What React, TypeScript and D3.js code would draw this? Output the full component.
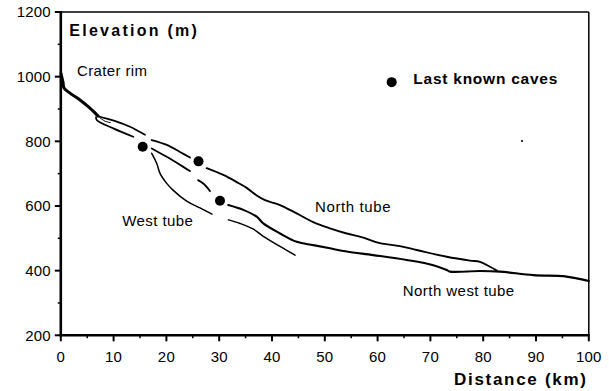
import React from "react";
import * as d3 from "d3";

// ---- data (distance km, elevation m) ----
const xTicks = [0, 10, 20, 30, 40, 50, 60, 70, 80, 90, 100];
const xMinorTicks = [5, 15, 25, 35, 45, 55, 65, 75, 85, 95];
const yTicks = [200, 400, 600, 800, 1000, 1200];
const yMinorTicks = [300, 500, 700, 900, 1100];

const trunk: [number, number][] = [
  [0.04, 1010], [0.17, 1000], [0.42, 983], [0.61, 965], [1.74, 949], [3.64, 928],
  [5.3, 906], [6.48, 888], [7.05, 878],
];
const splitUpper: [number, number][] = [
  [7.05, 878], [7.42, 876], [10.59, 861], [13.11, 845], [15.95, 820],
];
const splitLower: [number, number][] = [
  [6.67, 875], [6.8, 866], [9.94, 840], [13.73, 814],
];
const splitLens: [number, number][] = [
  [7.4, 873], [8.4, 862], [9.4, 858],
];
const northTubeA: [number, number][] = [
  [17.22, 804], [20.06, 789], [22.58, 767], [24.47, 750],
];
const northTubeB: [number, number][] = [
  [27.63, 717], [30.78, 696], [33.31, 674], [35.21, 656], [36.97, 634], [38.67, 618],
  [41.52, 603], [44.68, 577], [47.82, 550], [50.98, 531], [54.15, 515], [57.29, 502],
  [60.45, 485], [64.24, 476], [67.41, 464], [73.09, 443], [77.5, 431], [79.39, 427],
  [81.29, 412], [82.61, 400],
];
const northWestA: [number, number][] = [
  [17.22, 778], [20.06, 752], [23.2, 721], [24.47, 708],
];
const northWestDash: [number, number][] = [
  [26.0, 680], [27.1, 668], [28.26, 646],
];
const northWestB: [number, number][] = [
  [31.72, 603], [34.56, 588], [37.1, 567], [38.35, 546], [41.52, 515], [44.68, 489],
  [47.82, 479], [50.98, 469], [54.15, 459], [59.19, 448], [65.51, 433], [70.55, 417],
  [73.09, 402], [73.71, 397], [79.39, 399], [83.18, 397], [89.49, 386], [95.17, 383],
  [97.71, 376], [100, 368],
];
const westTubeA: [number, number][] = [
  [17.22, 763], [18.16, 732], [18.79, 701], [20.06, 670], [21.25, 649], [23.84, 615],
  [26.36, 594], [28.64, 575],
];
const westTubeB: [number, number][] = [
  [31.76, 557], [33.94, 546], [36.4, 529], [38.35, 506], [41.52, 475], [44.36, 448],
];
const caves: [number, number][] = [
  [15.51, 783], [26.08, 738], [30.15, 616],
];
const legendDot: [number, number] = [62.67, 983];
const strayMark: [number, number] = [87.35, 801];

const W = 609;
const H = 391;

export default function App() {
  const x = d3.scaleLinear().domain([0, 100]).range([60.8, 588.8]);
  const y = d3.scaleLinear().domain([200, 1200]).range([335.3, 12]);
  const line = d3
    .line<[number, number]>()
    .x((d) => x(d[0]))
    .y((d) => y(d[1]))
    .curve(d3.curveCatmullRom.alpha(0.5));

  const font = "'Liberation Sans', Arial, Helvetica, sans-serif";

  const segs: { d: [number, number][]; w: number }[] = [
    { d: trunk, w: 3 },
    { d: splitUpper, w: 1.7 },
    { d: splitLower, w: 1.7 },
    { d: splitLens, w: 1.0 },
    { d: northTubeA, w: 1.8 },
    { d: northTubeB, w: 1.9 },
    { d: northWestA, w: 1.8 },
    { d: northWestDash, w: 1.8 },
    { d: northWestB, w: 2.1 },
    { d: westTubeA, w: 1.5 },
    { d: westTubeB, w: 1.5 },
  ];

  return (
    <svg
      width={W}
      height={H}
      style={{ position: "absolute", left: 0, top: 0, background: "#fff" }}
      fontFamily={font}
    >
      <rect x={0} y={0} width={W} height={H} fill="#fff" />
      {/* frame */}
      <line x1={x(0)} x2={x(100)} y1={y(1200)} y2={y(1200)} stroke="#000" strokeWidth={1.5} />
      <line x1={x(100)} x2={x(100)} y1={y(1200)} y2={y(200)} stroke="#000" strokeWidth={1.5} />
      <line x1={x(0)} x2={x(0)} y1={y(1200) - 1} y2={y(200) + 1} stroke="#000" strokeWidth={2.6} />
      <line x1={x(0) - 1} x2={x(100) + 1} y1={y(200)} y2={y(200)} stroke="#000" strokeWidth={2.6} />

      {/* y ticks */}
      {yTicks.map((t) => (
        <g key={"y" + t}>
          <line x1={x(0) - 6} x2={x(0)} y1={y(t)} y2={y(t)} stroke="#000" strokeWidth={2} />
          <text
            x={x(0) - 10}
            y={y(t) + 5.2}
            textAnchor="end"
            fontSize={15}
            letterSpacing={0.2}
            fill="#000"
          >
            {t}
          </text>
        </g>
      ))}
      {yMinorTicks.map((t) => (
        <line key={"ym" + t} x1={x(0) - 3} x2={x(0)} y1={y(t)} y2={y(t)} stroke="#000" strokeWidth={1.5} />
      ))}

      {/* x ticks */}
      {xTicks.map((t) => (
        <g key={"x" + t}>
          <line x1={x(t)} x2={x(t)} y1={y(200)} y2={y(200) + 6} stroke="#000" strokeWidth={2} />
          <text
            x={x(t)}
            y={361.5}
            textAnchor="middle"
            fontSize={15}
            letterSpacing={0.2}
            fill="#000"
          >
            {t}
          </text>
        </g>
      ))}
      {xMinorTicks.map((t) => (
        <line key={"xm" + t} x1={x(t)} x2={x(t)} y1={y(200)} y2={y(200) + 3} stroke="#000" strokeWidth={1.5} />
      ))}

      {/* tubes */}
      {segs.map((s, i) => (
        <path
          key={"s" + i}
          d={line(s.d) || ""}
          fill="none"
          stroke="#000"
          strokeWidth={s.w}
          strokeLinecap="round"
          strokeLinejoin="round"
        />
      ))}

      {/* caves */}
      {caves.map((c, i) => (
        <circle key={"c" + i} cx={x(c[0])} cy={y(c[1])} r={5} fill="#000" />
      ))}
      <circle cx={x(legendDot[0])} cy={y(legendDot[1])} r={5} fill="#000" />
      <circle cx={x(strayMark[0])} cy={y(strayMark[1])} r={1.1} fill="#000" />

      {/* labels */}
      <text x={69.3} y={36} fontSize={16} fontWeight="bold" textLength={127.5} lengthAdjust="spacing">
        {"Elevation  (m)"}
      </text>
      <text x={77} y={76} fontSize={15} textLength={70} lengthAdjust="spacing">
        Crater rim
      </text>
      <text x={413.3} y={84} fontSize={15.5} fontWeight="bold" textLength={144} lengthAdjust="spacing">
        Last known caves
      </text>
      <text x={315} y={211.5} fontSize={15} textLength={75.5} lengthAdjust="spacing">
        North tube
      </text>
      <text x={122.3} y={226} fontSize={15} textLength={70.5} lengthAdjust="spacing">
        West tube
      </text>
      <text x={402.7} y={296} fontSize={15} textLength={111.5} lengthAdjust="spacing">
        North west tube
      </text>
      <text x={454} y={385} fontSize={17} fontWeight="bold" textLength={132} lengthAdjust="spacing">
        {"Distance  (km)"}
      </text>
    </svg>
  );
}
